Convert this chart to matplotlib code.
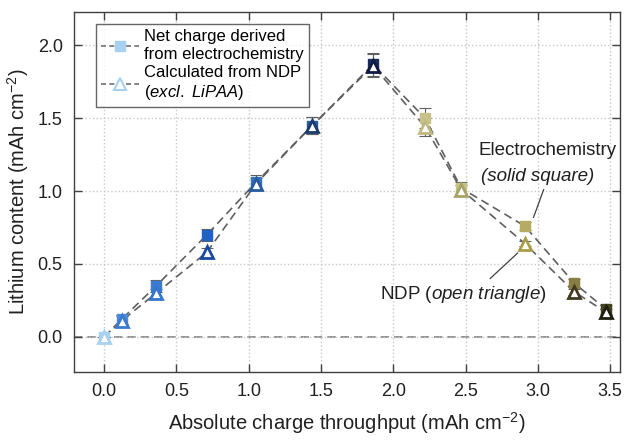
import matplotlib
matplotlib.use("Agg")
import matplotlib.pyplot as plt
from matplotlib.lines import Line2D

plt.rcParams['font.family'] = ['Liberation Sans', 'DejaVu Sans']
plt.rcParams['mathtext.fontset'] = 'custom'
plt.rcParams['mathtext.rm'] = 'Liberation Sans'
plt.rcParams['mathtext.it'] = 'Liberation Sans:italic'
plt.rcParams['mathtext.bf'] = 'Liberation Sans:bold'
plt.rcParams['axes.unicode_minus'] = False

x_ec = [0.0, 0.12, 0.36, 0.71, 1.05, 1.44, 1.86, 2.22, 2.47, 2.91, 3.25, 3.47]
y_ec = [0.0, 0.12, 0.35, 0.70, 1.06, 1.45, 1.87, 1.50, 1.02, 0.76, 0.37, 0.19]
err_ec = [0.0, 0.03, 0.04, 0.04, 0.05, 0.06, 0.08, 0.07, 0.04, 0.03, 0.03, 0.03]
x_ndp = [0.0, 0.12, 0.36, 0.71, 1.05, 1.44, 1.86, 2.22, 2.47, 2.91, 3.25, 3.47]
y_ndp = [0.0, 0.11, 0.30, 0.58, 1.05, 1.45, 1.86, 1.44, 1.01, 0.64, 0.31, 0.17]
err_ndp = [0.0, 0.03, 0.03, 0.03, 0.04, 0.06, 0.08, 0.06, 0.03, 0.02, 0.02, 0.02]

sq_colors = ['#a8d0f0', '#4a8ad8', '#3a7ad0', '#1f62c4', '#3a72bc', '#2a5c9c', '#1a2a5a',
             '#c8c28a', '#c4c284', '#b4ac64', '#867e44', '#45421f']
tri_colors = ['#a8d0f0', '#3a7ad0', '#3576cc', '#1a4aa0', '#2a5aa0', '#1a3a70', '#101a40',
              '#c0ba80', '#a8a468', '#a89e48', '#403a20', '#202010']

fig = plt.figure(figsize=(6.31, 4.40), dpi=100)
ax = fig.add_axes([0.117, 0.155, 0.866, 0.818])

ax.axhline(0, color='#808080', ls=(0, (5, 3)), lw=1.2, zorder=1)
ax.plot(x_ec, y_ec, color='#606060', ls=(0, (5, 3)), lw=1.2, zorder=2)
ax.plot(x_ndp, y_ndp, color='#606060', ls=(0, (5, 3)), lw=1.2, zorder=2)
ax.errorbar(x_ec, y_ec, yerr=err_ec, fmt='none', ecolor='#606060', elinewidth=0.8,
            capsize=4, capthick=0.8, zorder=3)
ax.errorbar(x_ndp, y_ndp, yerr=err_ndp, fmt='none', ecolor='#606060', elinewidth=0.8,
            capsize=4, capthick=0.8, zorder=3)
for xi, yi, c in zip(x_ec, y_ec, sq_colors):
    ax.plot(xi, yi, marker='s', ms=7, color=c, mec=c, ls='none', zorder=4)
for xi, yi, c in zip(x_ndp, y_ndp, tri_colors):
    ax.plot(xi, yi, marker='^', ms=8, mfc='white', mec=c, mew=2, ls='none', zorder=5)

ax.set_xlim(-0.21, 3.57)
ax.set_ylim(-0.24, 2.23)
ax.set_xticks([0.0, 0.5, 1.0, 1.5, 2.0, 2.5, 3.0, 3.5])
ax.set_yticks([0.0, 0.5, 1.0, 1.5, 2.0])
ax.xaxis.set_major_formatter(matplotlib.ticker.FormatStrFormatter('%.1f'))
ax.yaxis.set_major_formatter(matplotlib.ticker.FormatStrFormatter('%.1f'))
ax.tick_params(direction='in', top=True, right=True, length=6, width=1, labelsize=13,
               color='#404040', labelcolor='#202020', pad=8)
for s in ax.spines.values():
    s.set_color('#404040')
    s.set_linewidth(1.0)
ax.grid(True, color='#c8c8c8', ls=':', lw=1.0, zorder=0)

ax.set_xlabel('Absolute charge throughput (mAh cm$^{-2}$)', fontsize=14.5, color='#202020', labelpad=7)
ax.set_ylabel('Lithium content (mAh cm$^{-2}$)', fontsize=14.5, color='#202020', labelpad=5)

ax.text(2.59, 1.28, 'Electrochemistry', fontsize=13.5, color='#202020', va='center')
ax.text(2.61, 1.10, '(solid square)', fontsize=13.5, color='#202020', va='center', style='italic')
ax.plot([3.04, 2.97], [1.01, 0.82], color='#404040', lw=0.9)
ax.text(1.91, 0.29, 'NDP $\\mathit{(open\\ triangle)}$', fontsize=13.5, color='#202020', va='center')
ax.plot([2.86, 2.67], [0.575, 0.40], color='#404040', lw=0.9)

h1 = Line2D([], [], color='#707070', ls=(0, (3, 2)), lw=1.2, marker='s', ms=7,
            mfc='#a8d0f0', mec='#a8d0f0')
h2 = Line2D([], [], color='#707070', ls=(0, (3, 2)), lw=1.2, marker='^', ms=8,
            mfc='white', mec='#a8d0f0', mew=1.5)
leg = ax.legend([h1, h2], ['Net charge derived\nfrom electrochemistry',
                           'Calculated from NDP\n$\\mathit{(excl.\\ LiPAA)}$'],
                loc='upper left', bbox_to_anchor=(0.04, 0.965), fontsize=12,
                frameon=True, fancybox=False, edgecolor='#404040', handlelength=2.3,
                handletextpad=0.3, labelspacing=0.2, borderpad=0.3, borderaxespad=0)
leg.get_frame().set_linewidth(1.0)

fig.savefig('out.png', dpi=100)
